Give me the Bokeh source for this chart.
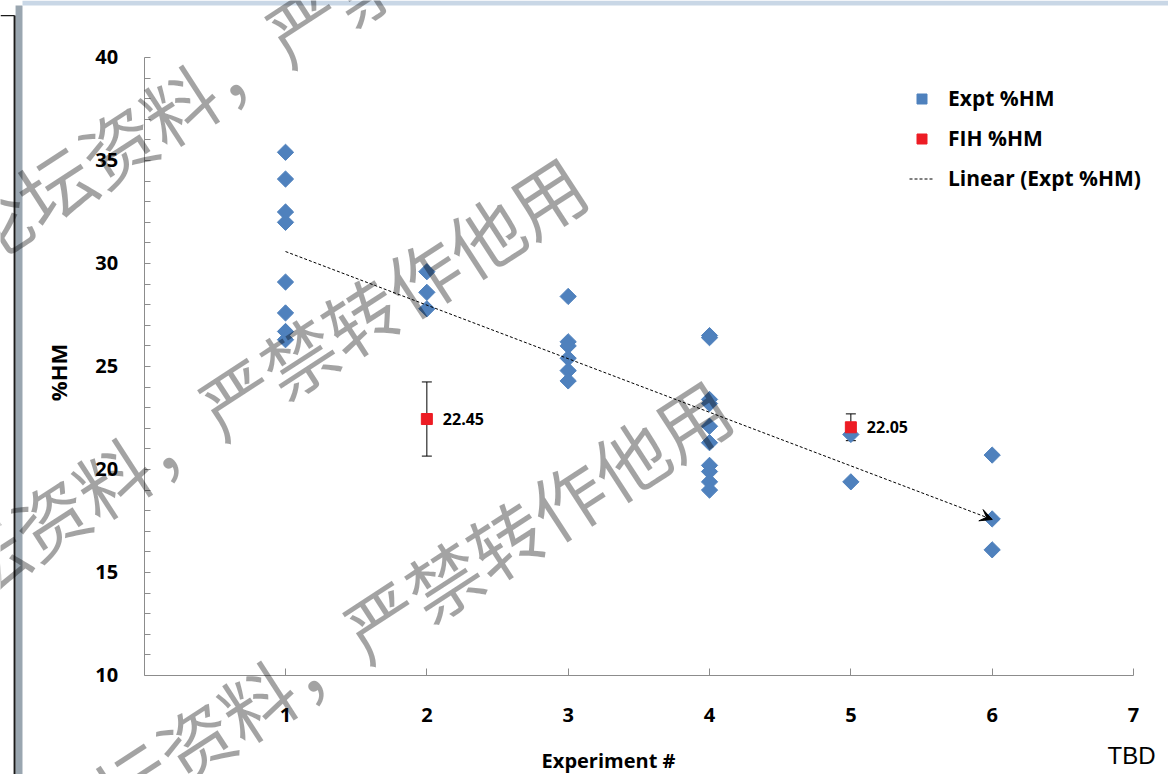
import numpy as np
from bokeh.plotting import figure
from bokeh.models import (ColumnDataSource, Whisker, TeeHead, Arrow, VeeHead, Label, Grid,
                          LinearAxis, Legend, LegendItem, SingleIntervalTicker, FixedTicker,
                          Range1d, BoxAnnotation)
from bokeh.core.properties import value
from bokeh.embed import file_html
from bokeh.resources import INLINE

# ---- data ----
expt_x = [1] * 8 + [2] * 3 + [3] * 6 + [4] * 10 + [5] * 2 + [6] * 3
expt_y = [35.4, 34.1, 32.5, 32.0, 29.1, 27.6, 26.7, 26.3,
          29.6, 28.6, 27.8,
          28.4, 26.2, 26.0, 25.4, 24.8, 24.3,
          26.5, 26.4, 23.4, 23.2, 22.1, 21.3, 20.2, 19.9, 19.4, 19.0,
          21.7, 19.4,
          20.7, 17.6, 16.1]
fih_x = [2, 5]
fih_y = [22.45, 22.05]
fih_err = [1.8, 0.65]
x_ticks = [1, 2, 3, 4, 5, 6, 7]
watermark = "论坛资料，严禁转作他用"

FONT = "Open Sans"
BLUE = "#4F81BD"
RED = "#ED1C24"
AXIS = "#8c8c8c"

# frame covers whole canvas; axes are pinned to x=0 / y=10 with bounds
p = figure(width=1168, height=774, x_range=Range1d(-1.0166, 7.2475), y_range=Range1d(5.194, 42.767),
           output_backend="svg", toolbar_location=None,
           x_axis_location=None, y_axis_location=None,
           min_border=0, min_border_left=0, min_border_right=0, min_border_top=0, min_border_bottom=0,
           background_fill_color="white", border_fill_color="white", outline_line_color=None)
for g in p.grid:
    g.visible = False
p.renderers = [r for r in p.renderers if not isinstance(r, Grid)]
p.center = [c for c in p.center if not isinstance(c, Grid)]

xaxis = LinearAxis(fixed_location=10, bounds=(0, 7), ticker=FixedTicker(ticks=x_ticks))
yaxis = LinearAxis(fixed_location=0, bounds=(10, 40),
                   ticker=SingleIntervalTicker(interval=5, num_minor_ticks=5))
for ax in (xaxis, yaxis):
    ax.axis_line_color = AXIS
    ax.major_tick_line_color = AXIS
    ax.minor_tick_line_color = AXIS
    ax.major_label_text_font = FONT
    ax.major_label_text_font_style = "bold"
    ax.major_label_text_font_size = "20px"
    ax.major_label_text_color = "black"
xaxis.major_tick_in = 7
xaxis.major_tick_out = 0
xaxis.major_label_standoff = 33
yaxis.major_tick_in = 0
yaxis.major_tick_out = 0
yaxis.minor_tick_in = 6
yaxis.minor_tick_out = 0
yaxis.major_label_standoff = 26
p.add_layout(xaxis, "below")
p.add_layout(yaxis, "left")
p.add_layout(Grid(dimension=1, ticker=yaxis.ticker, bounds=(0, 7),
                  grid_line_color="#a6a6a6", grid_line_width=1))

# window chrome seen at the left/top edge of the screenshot
p.add_layout(BoxAnnotation(left=-0.910, right=-0.861, bottom=5.194, top=42.52,
                           fill_color="#9aa6b0", fill_alpha=1, line_alpha=0))
p.add_layout(BoxAnnotation(left=-0.924, right=-0.910, bottom=5.194, top=42.04,
                           fill_color="#1a1a1a", fill_alpha=1, line_alpha=0))
p.add_layout(BoxAnnotation(left=-1.0166, right=-0.917, bottom=42.0, top=42.06,
                           fill_color="#1a1a1a", fill_alpha=1, line_alpha=0))
p.add_layout(BoxAnnotation(left=-0.861, right=7.2475, bottom=42.52, top=42.767,
                           fill_color="#c9d7e6", fill_alpha=1, line_alpha=0))

# error bars
esrc = ColumnDataSource(dict(x=fih_x, upper=[v + e for v, e in zip(fih_y, fih_err)],
                             lower=[v - e for v, e in zip(fih_y, fih_err)]))
wh = Whisker(source=esrc, base="x", upper="upper", lower="lower", line_color="black", line_width=1,
             upper_head=TeeHead(size=10, line_color="black", line_width=1),
             lower_head=TeeHead(size=10, line_color="black", line_width=1))
p.add_layout(wh)

# scatter series
r_expt = p.scatter(expt_x, expt_y, marker="square", angle=np.pi / 4, size=11.5,
                   fill_color=BLUE, line_color=BLUE)
r_fih = p.scatter(fih_x, fih_y, marker="square", size=11, fill_color=RED, line_color=RED)
p.text(fih_x, fih_y, text=[f"{v:.2f}" for v in fih_y], x_offset=16,
       text_font=value(FONT), text_font_style="bold", text_font_size="16px",
       text_baseline="middle", text_align="left", text_color="black")

# linear trend
slope, intercept = np.polyfit(expt_x, expt_y, 1)
tx = [min(expt_x), max(expt_x)]
ty = [slope * v + intercept for v in tx]
r_trend = p.line(tx, ty, line_color="black", line_dash="3 2", line_width=1)
hx = tx[1] - 0.15
p.add_layout(Arrow(end=VeeHead(size=12, fill_color="black", line_color="black", line_width=1),
                   x_start=hx, y_start=slope * hx + intercept, x_end=tx[1], y_end=ty[1],
                   line_alpha=0))

# legend
legend = Legend(items=[LegendItem(label="Expt %HM", renderers=[r_expt]),
                       LegendItem(label="FIH %HM", renderers=[r_fih]),
                       LegendItem(label="Linear (Expt %HM)", renderers=[r_trend])],
                location=(909, 582), padding=0, spacing=12, glyph_width=25, glyph_height=25,
                label_standoff=14, label_text_font=FONT, label_text_font_style="bold",
                label_text_font_size="21px", label_text_color="black",
                background_fill_alpha=0, border_line_alpha=0)
p.add_layout(legend)

# axis titles
p.add_layout(Label(x=3.2855, y=5.874, text="Experiment #", text_font=FONT, text_font_style="bold",
                   text_font_size="20px", text_align="center", text_baseline="middle",
                   text_color="black"))
p.add_layout(Label(x=-0.6133, y=24.709, text="%HM", text_font=FONT, text_font_style="bold",
                   text_font_size="22px", text_align="center", text_baseline="middle",
                   angle=90, angle_units="deg", text_color="black"))
p.add_layout(Label(x=6.986, y=6.117, text="TBD", text_font="Liberation Sans",
                   text_font_size="24px", text_align="center", text_baseline="middle",
                   text_color="black"))

# watermark
for wx, wy in [(1.1203, 41.699), (0.6464, 23.592), (1.6722, 12.767)]:
    p.add_layout(Label(x=wx, y=wy, text=watermark, angle=33, angle_units="deg",
                       text_font="Noto Sans CJK SC", text_font_size="74px",
                       text_color="black", text_alpha=0.36,
                       text_align="center", text_baseline="middle"))

open("out.html", "w").write(file_html(p, INLINE))
